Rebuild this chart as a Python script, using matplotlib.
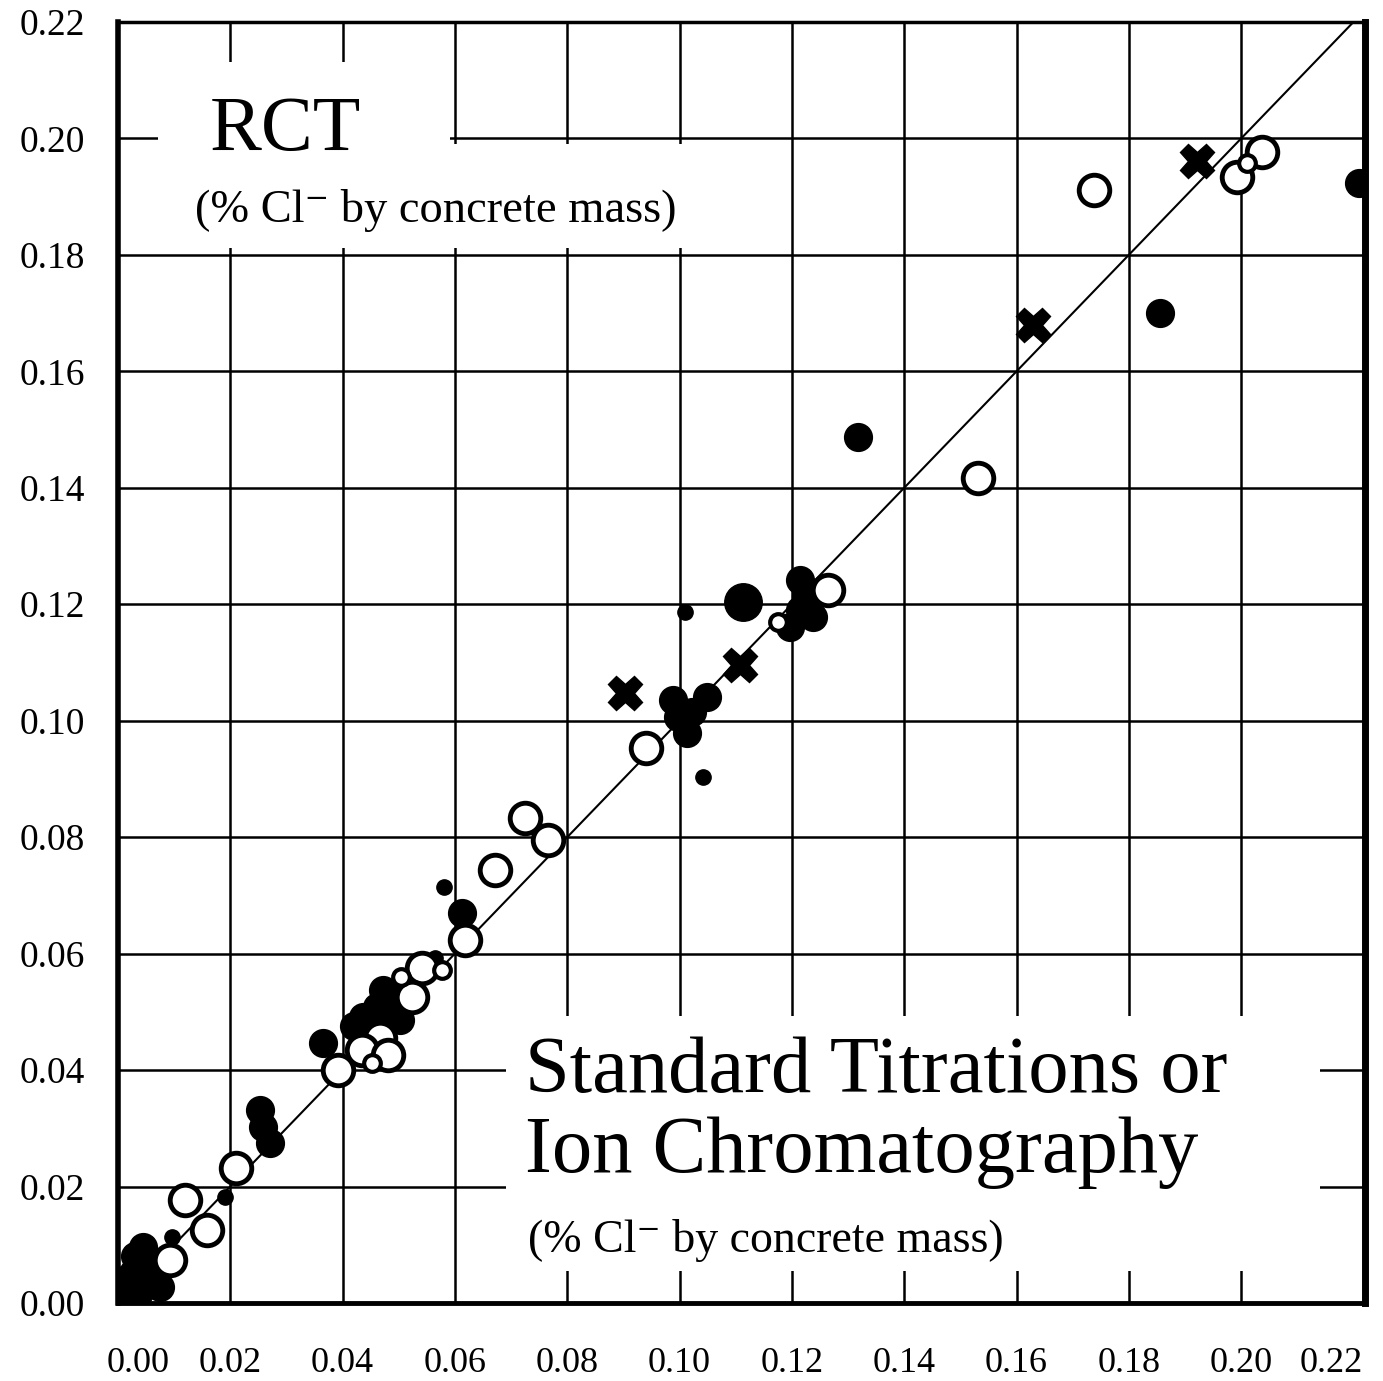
import matplotlib
matplotlib.use('Agg')
from matplotlib import pyplot as plt
from matplotlib.patches import Rectangle
from matplotlib.transforms import ScaledTranslation
import numpy as np

# open circles (large / small)
open_x = [0.1738, 0.1532, 0.1264, 0.0940, 0.0725, 0.0766, 0.0671, 0.0618, 0.0541,
          0.0524, 0.0467, 0.0435, 0.0481, 0.0392, 0.0210, 0.0119, 0.0159, 0.0093,
          0.2037, 0.1993]
open_y = [0.1911, 0.1416, 0.1224, 0.0953, 0.0833, 0.0795, 0.0743, 0.0623, 0.0575,
          0.0525, 0.0455, 0.0434, 0.0426, 0.0400, 0.0232, 0.0177, 0.0125, 0.0074,
          0.1976, 0.1933]
small_open_x = [0.2010, 0.1175, 0.0504, 0.0452, 0.0577]
small_open_y = [0.1957, 0.1169, 0.0560, 0.0412, 0.0572]

# filled circles
filled_x = [0.1318, 0.1856, 0.0988, 0.1049, 0.1013, 0.0997, 0.1022, 0.1215, 0.1215,
            0.1197, 0.1238, 0.1225, 0.0472, 0.0436, 0.0484, 0.0502, 0.0461, 0.0443,
            0.0420, 0.0490, 0.0613, 0.0365, 0.0258, 0.0271, 0.0253, 0.0045, 0.0027,
            0.0057, 0.0016, 0.0075, 0.0010, 0.0040, 0.0065, 0.0030, 0.2210]
filled_y = [0.1487, 0.1700, 0.1035, 0.1040, 0.0979, 0.1006, 0.1015, 0.1241, 0.1190,
            0.1161, 0.1178, 0.1215, 0.0537, 0.0491, 0.0498, 0.0486, 0.0508, 0.0481,
            0.0475, 0.0530, 0.0670, 0.0446, 0.0302, 0.0275, 0.0331, 0.0096, 0.0052,
            0.0040, 0.0017, 0.0027, 0.0040, 0.0020, 0.0070, 0.0080, 0.1923]
big_filled_x = [0.1113]
big_filled_y = [0.1204]
small_filled_x = [0.1010, 0.1042, 0.0565, 0.0580, 0.0096, 0.0190]
small_filled_y = [0.1186, 0.0903, 0.0592, 0.0714, 0.0113, 0.0182]

# filled crosses
cross_x = [0.0903, 0.1108, 0.1630, 0.1922]
cross_y = [0.1047, 0.1095, 0.1680, 0.1962]

ticks = [0.00, 0.02, 0.04, 0.06, 0.08, 0.10, 0.12, 0.14, 0.16, 0.18, 0.20, 0.22]
tick_labels = ['%.2f' % t for t in ticks]

serif = ['Liberation Serif', 'DejaVu Serif']
plt.rcParams['font.family'] = serif

fig = plt.figure(figsize=(13.83, 13.81), dpi=100)
ax = fig.add_axes([0.0853, 0.0565, 0.9015, 0.9276])
ax.set_xlim(0, 0.222)
ax.set_ylim(0, 0.22)

# grid
for t in ticks[1:-1]:
    ax.axvline(t, color='black', lw=1.8, zorder=1)
    ax.axhline(t, color='black', lw=1.8, zorder=1)

# white label boxes that hide the grid
for (x0, y0, w, h) in [(0.0071, 0.1812, 0.0520, 0.0320),
                       (0.0071, 0.1812, 0.0966, 0.0178),
                       (0.0691, 0.0055, 0.1450, 0.0438)]:
    ax.add_patch(Rectangle((x0, y0), w, h, facecolor='white', edgecolor='none', zorder=2))

# line of equality
line = np.array([0, 0.222])
ax.plot(line, line, color='black', lw=1.5, zorder=3)

ax.plot(filled_x, filled_y, 'o', ms=20, color='black', zorder=4)
ax.plot(big_filled_x, big_filled_y, 'o', ms=27, color='black', zorder=4)
ax.plot(small_filled_x, small_filled_y, 'o', ms=11, color='black', zorder=4)
ax.plot(cross_x, cross_y, 'X', ms=25, color='black', zorder=4)
ax.plot(open_x, open_y, 'o', ms=22, mfc='white', mec='black', mew=3.5, zorder=5)
ax.plot(small_open_x, small_open_y, 'o', ms=12, mfc='white', mec='black', mew=3, zorder=5)

ax.text(0.0164, 0.1980, 'RCT', fontsize=56, va='baseline', ha='left', zorder=6)
ax.text(0.0137, 0.1856, '(% Cl\u207b by concrete mass)', fontsize=33.5,
        va='baseline', ha='left', zorder=6)
ax.text(0.0725, 0.0362, 'Standard Titrations or', fontsize=58,
        va='baseline', ha='left', zorder=6)
ax.text(0.0725, 0.0225, 'Ion Chromatography', fontsize=58,
        va='baseline', ha='left', zorder=6)
ax.text(0.0730, 0.0088, '(% Cl\u207b by concrete mass)', fontsize=33,
        va='baseline', ha='left', zorder=6)

ax.set_xticks(ticks)
ax.set_yticks(ticks)
ax.set_xticklabels(tick_labels, fontsize=26)
ax.set_yticklabels(tick_labels, fontsize=27)
ax.tick_params(axis='x', length=0, pad=32)
ax.tick_params(axis='y', length=0, pad=24)

# nudge the end labels inwards like the original print
xl = ax.get_xticklabels()
xl[0].set_transform(xl[0].get_transform() + ScaledTranslation(0.2, 0, fig.dpi_scale_trans))
xl[-1].set_transform(xl[-1].get_transform() + ScaledTranslation(-0.22, 0, fig.dpi_scale_trans))

for side, lw in [('left', 4), ('right', 5), ('bottom', 3.5), ('top', 2.5)]:
    ax.spines[side].set_linewidth(lw)
    ax.spines[side].set_color('black')

fig.savefig('out.png', dpi=100, facecolor='white')
